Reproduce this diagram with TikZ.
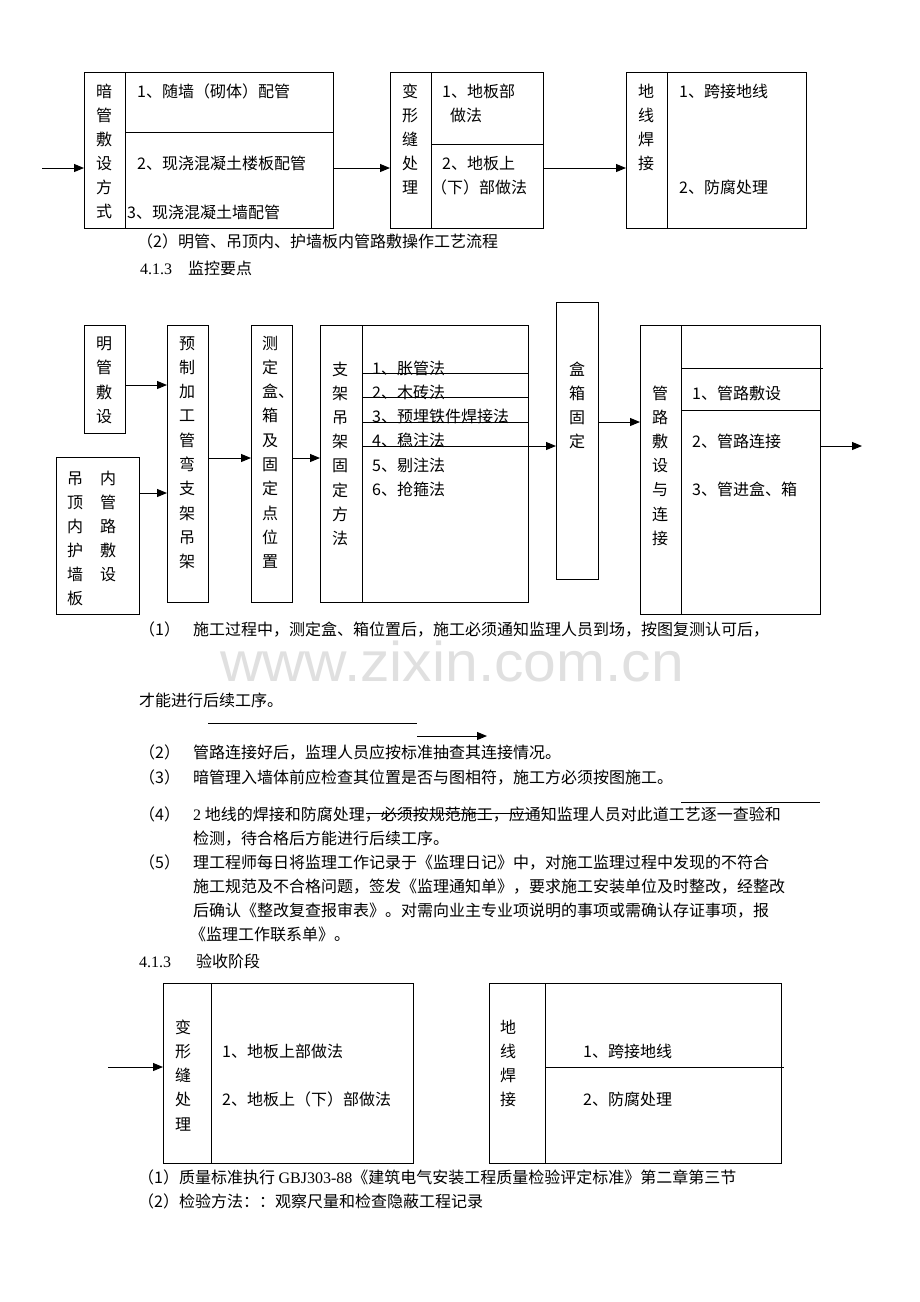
\documentclass[tikz,border=0pt]{standalone}
\usepackage{fontspec}
\setmainfont{Noto Sans CJK SC}
\newfontfamily\tnr{Liberation Serif}
\newfontfamily\wmfont{Liberation Sans}
\usetikzlibrary{arrows.meta}
\tikzset{
  box/.style={draw, line width=1pt, inner sep=0pt, outer sep=0pt},
  ln/.style={line width=1pt},
  arr/.style={line width=1pt, -{Triangle[length=10pt,width=8pt]}},
  t/.style={anchor=base west, inner sep=0pt, font=\fontsize{16}{16}\selectfont, yshift=-6pt},
  vc/.style={anchor=base, inner sep=0pt, font=\fontsize{16}{16}\selectfont, yshift=-6pt},
}
\newcommand\vtxt[5]{%
  \foreach \ch [count=\i from 0] in {#5} {\node[vc] (#1-\i) at (#2, #3+\i*#4) {\ch};}}
\begin{document}
\begin{tikzpicture}[x=1pt,y=-1pt]
\fill[white] (0,0) rectangle (920,1302);
\useasboundingbox (0,0) rectangle (920,1302);

% ---------- top flow ----------
\node[box, minimum width=249pt, minimum height=156pt] (T1) at (208.5,150) {};
\draw[ln] (125,72) -- (125,228);
\draw[ln] (125,132) -- (333,132);
\vtxt{v1}{104}{91}{24}{暗,管,敷,设,方,式}
\node[t] (t11) at (137,91) {1、随墙（砌体）配管};
\node[t] (t12) at (137,163) {2、现浇混凝土楼板配管};
\node[t] (t13) at (127,212) {3、现浇混凝土墙配管};

\node[box, minimum width=153pt, minimum height=156pt] (T2) at (466.5,150) {};
\draw[ln] (431,72) -- (431,228);
\draw[ln] (431,144) -- (543,144);
\vtxt{v2}{410}{91}{24}{变,形,缝,处,理}
\node[t] (t21) at (442,91) {1、地板部};
\node[t] (t22) at (450,115) {做法};
\node[t] (t23) at (442,163) {2、地板上};
\node[t] (t24) at (431,187) {（下）部做法};

\node[box, minimum width=180pt, minimum height=156pt] (T3) at (716,150) {};
\draw[ln] (667,72) -- (667,228);
\vtxt{v3}{646}{91}{24}{地,线,焊,接}
\node[t] (t31) at (679,91) {1、跨接地线};
\node[t] (t32) at (679,187) {2、防腐处理};

\coordinate (in1) at (42,168);
\draw[arr] (in1) -- ([yshift=-18pt]T1.west);
\draw[arr] ([yshift=-18pt]T1.east) -- ([yshift=-18pt]T2.west);
\draw[arr] ([yshift=-18pt]T2.east) -- ([yshift=-18pt]T3.west);

\node[t] (cap1) at (137,241) {（2）明管、吊顶内、护墙板内管路敷操作工艺流程};
\node[t] (h1) at (140,268) {\tnr 4.1.3};
\node[t] (h1b) at (188,268) {监控要点};

% ---------- middle flow ----------
\node[box, minimum width=41pt, minimum height=108pt] (M1) at (104.5,379) {};
\vtxt{m1}{104}{343}{24.5}{明,管,敷,设}

\node[box, minimum width=83pt, minimum height=157pt] (M2) at (97.5,535.5) {};
\vtxt{m2a}{75}{478}{24}{吊,顶,内,护,墙,板}
\vtxt{m2b}{108}{478}{24}{内,管,路,敷,设}

\node[box, minimum width=41pt, minimum height=277pt] (M3) at (187.5,463.5) {};
\vtxt{m3}{187}{343}{24.3}{预,制,加,工,管,弯,支,架,吊,架}

\node[box, minimum width=41pt, minimum height=277pt] (M4) at (271.5,463.5) {};
\vtxt{m4}{270}{343}{24.3}{测,定,盒\rlap{、},箱,及,固,定,点,位,置}

\node[box, minimum width=208pt, minimum height=277pt] (M5) at (424,463.5) {};
\draw[ln] (362,325) -- (362,602);
\vtxt{m5}{340}{369}{24.2}{支,架,吊,架,固,定,方,法}
\node[t] (m5i1) at (372,368) {1、胀管法};
\node[t] (m5i2) at (372,392) {2、木砖法};
\node[t] (m5i3) at (372,416) {3、预埋铁件焊接法};
\node[t] (m5i4) at (372,440) {4、稳注法};
\node[t] (m5i5) at (372,465) {5、剔注法};
\node[t] (m5i6) at (372,489) {6、抢箍法};
\draw[ln] (362,373) -- (528,373);
\draw[ln] (362,397) -- (528,397);
\draw[ln] (362,422) -- (528,422);

\node[box, minimum width=42pt, minimum height=277pt] (M6) at (577,440.5) {};
\vtxt{m6}{577}{369}{24.3}{盒,箱,固,定}

\node[box, minimum width=180pt, minimum height=289pt] (M7) at (730,469.5) {};
\draw[ln] (681,325) -- (681,614);
\draw[ln] (681,368) -- (823,368);
\draw[ln] (681,410) -- (820,410);
\vtxt{m7}{660}{393}{24.2}{管,路,敷,设,与,连,接}
\node[t] (m7i1) at (692,393) {1、管路敷设};
\node[t] (m7i2) at (692,441) {2、管路连接};
\node[t] (m7i3) at (692,489) {3、管进盒、箱};

\draw[arr] ([yshift=-6pt]M1.east) -- ([yshift=78.5pt]M3.west);
\draw[arr] ([yshift=42.5pt]M2.east) -- ([yshift=-29.5pt]M3.west);
\draw[arr] ([yshift=5.5pt]M3.east) -- ([yshift=5.5pt]M4.west);
\draw[arr] ([yshift=5.5pt]M4.east) -- ([yshift=5.5pt]M5.west);
\coordinate (s4) at (362,446);
\draw[arr] (s4) -- ([yshift=-5.5pt]M6.west);
\draw[arr] ([yshift=18.5pt]M6.east) -- ([yshift=47.5pt]M7.west);
\coordinate (out2) at (862,446);
\draw[arr] ([yshift=23.5pt]M7.east) -- (out2);

% ---------- watermark ----------
\node[font=\wmfont\fontsize{56}{56}\selectfont, text=black!12, xscale=1.05, inner sep=0pt] (wm) at (452,661) {www.zixin.com.cn};

% ---------- text block ----------
\node[t] (p1n) at (139,629) {（1）};
\node[t] (p1) at (193,629) {施工过程中，测定盒、箱位置后，施工必须通知监理人员到场，按图复测认可后，};
\node[t] (p1b) at (139,700) {才能进行后续工序。};
\coordinate (l1a) at (208,723);
\coordinate (l1b) at (417,723);
\draw[ln] (l1a) -- (l1b);
\coordinate (l2a) at (417,736);
\coordinate (l2b) at (487,736);
\draw[arr] (l2a) -- (l2b);
\node[t] (p2n) at (139,752) {（2）};
\node[t] (p2) at (193,752) {管路连接好后，监理人员应按标准抽查其连接情况。};
\node[t] (p3n) at (139,777) {（3）};
\node[t] (p3) at (193,777) {暗管理入墙体前应检查其位置是否与图相符，施工方必须按图施工。};
\coordinate (l3a) at (681,802);
\coordinate (l3b) at (820,802);
\draw[ln] (l3a) -- (l3b);
\node[t] (p4n) at (139,814) {（4）};
\node[t] (p4) at (193,814) {{\tnr 2} 地线的焊接和防腐处理，必须按规范施工，应通知监理人员对此道工艺逐一查验和};
\coordinate (l4a) at (366,813);
\coordinate (l4b) at (531,813);
\draw[ln] (l4a) -- (l4b);
\node[t] (p4b) at (193,838) {检测，待合格后方能进行后续工序。};
\node[t] (p5n) at (139,862) {（5）};
\node[t] (p5a) at (193,862) {理工程师每日将监理工作记录于《监理日记》中，对施工监理过程中发现的不符合};
\node[t] (p5b) at (193,886) {施工规范及不合格问题，签发《监理通知单》，要求施工安装单位及时整改，经整改};
\node[t] (p5c) at (193,910) {后确认《整改复查报审表》。对需向业主专业项说明的事项或需确认存证事项，报};
\node[t] (p5d) at (190,934) {《监理工作联系单》。};
\node[t] (h2) at (139,961) {\tnr 4.1.3};
\node[t] (h2b) at (196,961) {验收阶段};

% ---------- bottom flow ----------
\node[box, minimum width=250pt, minimum height=180pt] (B1) at (288,1073) {};
\draw[ln] (211,983) -- (211,1163);
\vtxt{b1}{183}{1027}{24.3}{变,形,缝,处,理}
\node[t] (b1i1) at (222,1051) {1、地板上部做法};
\node[t] (b1i2) at (222,1099) {2、地板上（下）部做法};
\coordinate (in3) at (108,1067);
\draw[arr] (in3) -- ([yshift=6pt]B1.west);

\node[box, minimum width=292pt, minimum height=180pt] (B2) at (635,1073) {};
\draw[ln] (545,983) -- (545,1163);
\draw[ln] (545,1067) -- (784,1067);
\vtxt{b2}{508}{1027}{24.3}{地,线,焊,接}
\node[t] (b2i1) at (583,1051) {1、跨接地线};
\node[t] (b2i2) at (583,1099) {2、防腐处理};

\node[t] (c1) at (138,1177) {（1）质量标准执行 {\tnr GBJ303-88}《建筑电气安装工程质量检验评定标准》第二章第三节};
\node[t] (c2) at (138,1201) {（2）检验方法：：观察尺量和检查隐蔽工程记录};
\end{tikzpicture}
\end{document}
